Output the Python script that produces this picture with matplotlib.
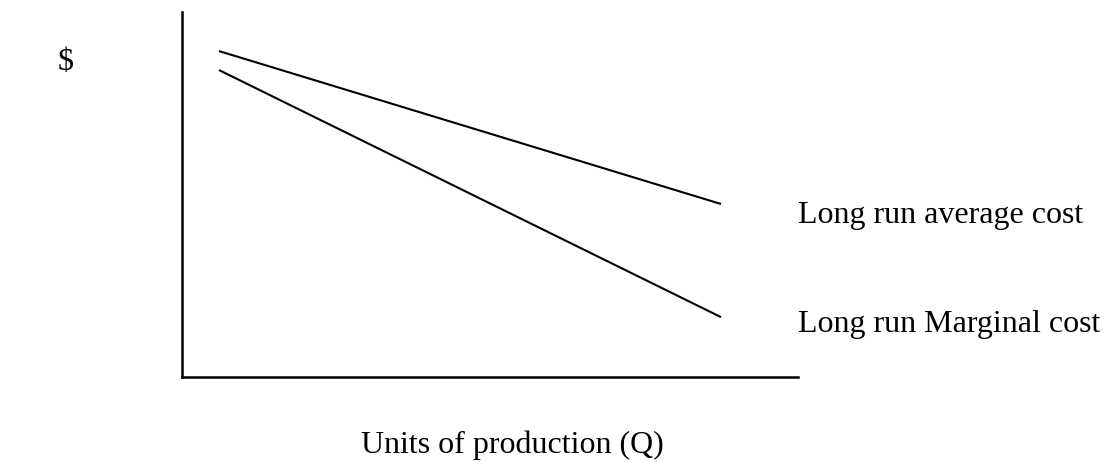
import matplotlib
matplotlib.use('Agg')
import matplotlib.pyplot as plt

plt.rcParams['font.family'] = ['Liberation Serif', 'DejaVu Serif']

# quantity axis (arbitrary units) and the two long run cost curves
q = [0.6, 8.75]
lrac = [8.93, 4.74]
lrmc = [8.41, 1.64]
curve_labels = ['Long run average cost', 'Long run Marginal cost']

W, H = 1107, 462
fig = plt.figure(figsize=(W / 100, H / 100), dpi=100)
ax = fig.add_axes([182 / W, (H - 377) / H, (798 - 182) / W, (377 - 12) / H])

ax.plot(q, lrac, color='black', lw=1.5, solid_capstyle='butt')
ax.plot(q, lrmc, color='black', lw=1.5, solid_capstyle='butt')

ax.set_xlim(0, 10)
ax.set_ylim(0, 10)
for s in ['top', 'right']:
    ax.spines[s].set_visible(False)
for s in ['left', 'bottom']:
    ax.spines[s].set_linewidth(1.8)
ax.set_xticks([])
ax.set_yticks([])

fs = 23
ax.text(10.0, 4.22, curve_labels[0], fontsize=fs, va='baseline', ha='left', clip_on=False)
ax.text(10.0, 1.23, curve_labels[1], fontsize=fs, va='baseline', ha='left', clip_on=False)

fig.text(361 / W, (H - 453) / H, 'Units of production (Q)', fontsize=fs, va='baseline', ha='left')
fig.text(58 / W, (H - 70) / H, '$', fontsize=fs, va='baseline', ha='left')

fig.savefig('out.png', dpi=100, facecolor='white')
